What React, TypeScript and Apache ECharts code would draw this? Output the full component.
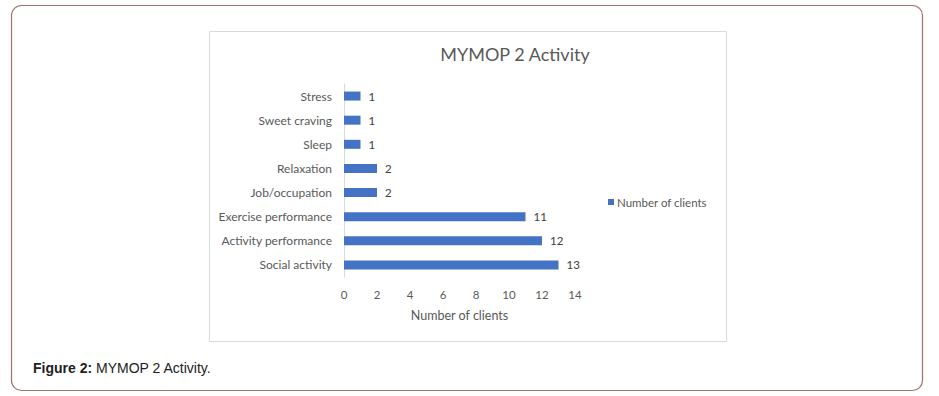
import React, { useEffect, useRef } from "react";
import * as echarts from "echarts";

const categories = [
  "Stress",
  "Sweet craving",
  "Sleep",
  "Relaxation",
  "Job/occupation",
  "Exercise performance",
  "Activity performance",
  "Social activity",
];
const clients = [1, 1, 1, 2, 2, 11, 12, 13];
const seriesName = "Number of clients";
const chartTitle = "MYMOP 2 Activity";
const xAxisName = "Number of clients";

export default function App() {
  const ref = useRef<HTMLDivElement>(null);
  useEffect(() => {
    if (!ref.current) return;
    const chart = echarts.init(ref.current, undefined, { renderer: "svg" });
    const font = "Lato, 'Open Sans', sans-serif";
    chart.setOption({
      animation: false,
      backgroundColor: "#ffffff",
      title: {
        text: chartTitle,
        left: 510,
        top: 40,
        textAlign: "center",
        textStyle: { fontFamily: font, fontSize: 18, fontWeight: "normal", color: "#595959" },
      },
      legend: {
        left: 603,
        top: 191,
        itemWidth: 6,
        itemHeight: 6,
        icon: "rect",
        itemGap: 4,
        textStyle: { fontFamily: font, fontSize: 11.5, color: "#595959", padding: [0, 0, 0, -2] },
        data: [seriesName],
      },
      grid: { left: 344, right: 364, top: 84, bottom: 119, containLabel: false },
      xAxis: {
        type: "value",
        min: 0,
        max: 14,
        interval: 2,
        name: xAxisName,
        nameLocation: "middle",
        nameGap: 32,
        nameTextStyle: { fontFamily: font, fontSize: 12.5, color: "#595959", verticalAlign: "top" },
        axisLine: { show: false },
        axisTick: { show: false },
        splitLine: { show: false },
        axisLabel: { fontFamily: font, fontSize: 11.5, color: "#595959", margin: 11 },
      },
      yAxis: {
        type: "category",
        inverse: true,
        data: categories,
        axisLine: { show: true, lineStyle: { color: "#d9d9d9", width: 1 } },
        axisTick: { show: false },
        axisLabel: { fontFamily: font, fontSize: 12, color: "#595959", margin: 12 },
      },
      series: [
        {
          name: seriesName,
          type: "bar",
          data: clients,
          barWidth: 9,
          itemStyle: { color: "#4472c4" },
          label: {
            show: true,
            position: "right",
            distance: 8,
            fontFamily: font,
            fontSize: 11.5,
            color: "#404040",
          },
        },
      ],
      graphic: [
        {
          type: "rect",
          shape: { x: 11.5, y: 5.5, width: 911, height: 385, r: 10 },
          style: { fill: "none", stroke: "#a0746e", lineWidth: 1.2 },
          z: -10,
        },
        {
          type: "rect",
          shape: { x: 209.5, y: 31.5, width: 517, height: 310 },
          style: { fill: "none", stroke: "#d9d9d9", lineWidth: 1 },
          z: -10,
        },
        {
          type: "text",
          x: 33,
          y: 368,
          style: {
            text: "{b|Figure 2:} MYMOP 2 Activity.",
            verticalAlign: "middle",
            fontFamily: "'Liberation Sans', Arial, sans-serif",
            fontSize: 14,
            fill: "#222222",
            rich: {
              b: { fontWeight: "bold", fontFamily: "'Liberation Sans', Arial, sans-serif", fontSize: 14, fill: "#222222" },
            },
          },
        },
      ],
    });
    return () => chart.dispose();
  }, []);
  return (
    <div
      ref={ref}
      style={{ position: "fixed", left: 0, top: 0, width: 939, height: 396 }}
    />
  );
}
